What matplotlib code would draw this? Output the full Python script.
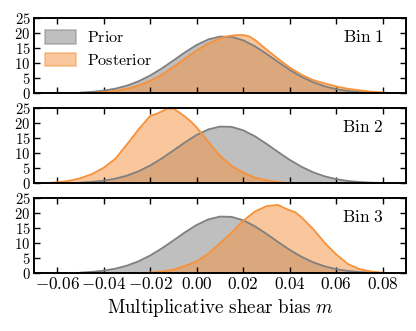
import matplotlib
matplotlib.use("Agg")
import matplotlib.pyplot as plt
from matplotlib.ticker import FuncFormatter
import matplotlib.patches as mpatches

plt.rcParams['mathtext.fontset'] = 'cm'
plt.rcParams['font.family'] = ['DejaVu Serif']

# Prior density (same in every bin)
prior_m = [-0.050, -0.045, -0.040, -0.035, -0.030, -0.025, -0.020, -0.015, -0.010, -0.005,
           0.000, 0.005, 0.010, 0.015, 0.020, 0.025, 0.030, 0.035, 0.040, 0.045,
           0.050, 0.055, 0.060, 0.065, 0.070, 0.075, 0.080, 0.085]
prior_p = [0.24, 0.48, 0.89, 1.55, 2.57, 4.02, 5.95, 8.32, 10.97, 13.69,
           16.14, 17.97, 18.91, 18.81, 17.67, 15.69, 13.16, 10.43, 7.81, 5.53,
           3.70, 2.33, 1.39, 0.79, 0.42, 0.21, 0.10, 0.05]

# Posterior densities
post1_m = [-0.050, -0.045, -0.040, -0.035, -0.030, -0.025, -0.020, -0.015, -0.010, -0.005,
           0.000, 0.005, 0.010, 0.0125, 0.015, 0.0175, 0.020, 0.0225, 0.025, 0.030, 0.035, 0.040, 0.045,
           0.050, 0.055, 0.060, 0.065, 0.070, 0.075, 0.080, 0.084]
post1_p = [0.0, 0.15, 0.4, 0.8, 1.5, 2.6, 4.2, 6.2, 8.8, 11.6,
           14.3, 16.6, 18.3, 18.9, 19.2, 19.4, 19.4, 19.0, 17.8, 14.6, 11.5, 8.6, 6.2,
           4.4, 3.3, 2.3, 1.5, 1.0, 0.55, 0.3, 0.05]

post2_m = [-0.064, -0.060, -0.055, -0.050, -0.045, -0.040, -0.035, -0.030, -0.025, -0.020,
           -0.0175, -0.015, -0.0125, -0.010, -0.0075, -0.005, -0.0025, 0.000, 0.0025, 0.005,
           0.0075, 0.010, 0.015, 0.020, 0.025, 0.030, 0.035, 0.040]
post2_p = [0.1, 0.35, 0.8, 1.7, 3.1, 5.2, 8.2, 13.0, 18.0, 22.5,
           23.1, 24.0, 24.9, 24.9, 23.6, 22.2, 20.6, 18.6, 16.2, 13.8,
           11.4, 9.2, 5.8, 3.6, 1.9, 1.0, 0.4, 0.05]

post3_m = [-0.025, -0.020, -0.015, -0.010, -0.005, 0.000, 0.005, 0.010, 0.015, 0.020,
           0.025, 0.030, 0.0325, 0.035, 0.0375, 0.040, 0.0425, 0.045, 0.050, 0.055,
           0.060, 0.065, 0.070, 0.075, 0.080, 0.085]
post3_p = [0.05, 0.25, 0.6, 1.2, 2.5, 4.0, 6.6, 10.0, 13.6, 17.5,
           20.6, 22.4, 22.6, 22.8, 21.8, 21.0, 20.3, 18.7, 14.8, 10.2,
           6.3, 3.1, 1.4, 0.6, 0.2, 0.05]

bin_labels = ["Bin 1", "Bin 2", "Bin 3"]
posteriors = [(post1_m, post1_p), (post2_m, post2_p), (post3_m, post3_p)]
xticks = [-0.06, -0.04, -0.02, 0.00, 0.02, 0.04, 0.06, 0.08]
yticks = [0, 5, 10, 15, 20, 25]

gray_c = '#808080'
orange_c = '#f7913a'

W, H = 416, 331
fig = plt.figure(figsize=(W / 100, H / 100), dpi=100)
left, right = 34 / W, 406 / W
tops = [18.3, 108.3, 198.3]
ph = 75.0

for i, (lab, (pm, pp)) in enumerate(zip(bin_labels, posteriors)):
    top = tops[i]
    ax = fig.add_axes([left, 1 - (top + ph) / H, right - left, ph / H])
    ax.fill_between(prior_m, 0, prior_p, facecolor=gray_c, alpha=0.5, lw=0)
    ax.plot(prior_m, prior_p, color=gray_c, lw=1.3)
    ax.fill_between(pm, 0, pp, facecolor=orange_c, alpha=0.5, lw=0)
    ax.plot(pm, pp, color=orange_c, lw=1.3)
    ax.set_xlim(-0.07, 0.09)
    ax.set_ylim(0, 25)
    ax.set_xticks(xticks)
    ax.set_yticks(yticks)
    ax.tick_params(direction='in', length=4.5, width=1, top=True, right=True, pad=2)
    ax.tick_params(axis='x', labelsize=12.3)
    ax.tick_params(axis='y', labelsize=10.6, pad=2.5)
    for s in ax.spines.values():
        s.set_linewidth(1.4)
    ax.yaxis.set_major_formatter(FuncFormatter(lambda v, p: r'$%d$' % v))
    if i < 2:
        ax.tick_params(labelbottom=False)
    else:
        ax.xaxis.set_major_formatter(FuncFormatter(lambda v, p: r'$%.2f$' % v))
        ax.set_xlabel(r'$\mathrm{Multiplicative\ shear\ bias}\ m$', fontsize=13.7, labelpad=3)
    ax.text(0.94, 0.75, r'$\mathrm{%s}$' % lab.replace(' ', r'\ '), transform=ax.transAxes,
            ha='right', va='center', fontsize=12.5)
    if i == 0:
        h1 = mpatches.Patch(facecolor=gray_c, alpha=0.5, edgecolor=gray_c, lw=1.2)
        h2 = mpatches.Patch(facecolor=orange_c, alpha=0.5, edgecolor=orange_c, lw=1.2)
        ax.legend([h1, h2], [r'$\mathrm{Prior}$', r'$\mathrm{Posterior}$'], loc='upper left',
                  frameon=False, fontsize=11.5, handlelength=1.9, handleheight=0.9,
                  borderaxespad=0.3, labelspacing=0.35, handletextpad=0.7)

fig.savefig('out.png', dpi=100)
